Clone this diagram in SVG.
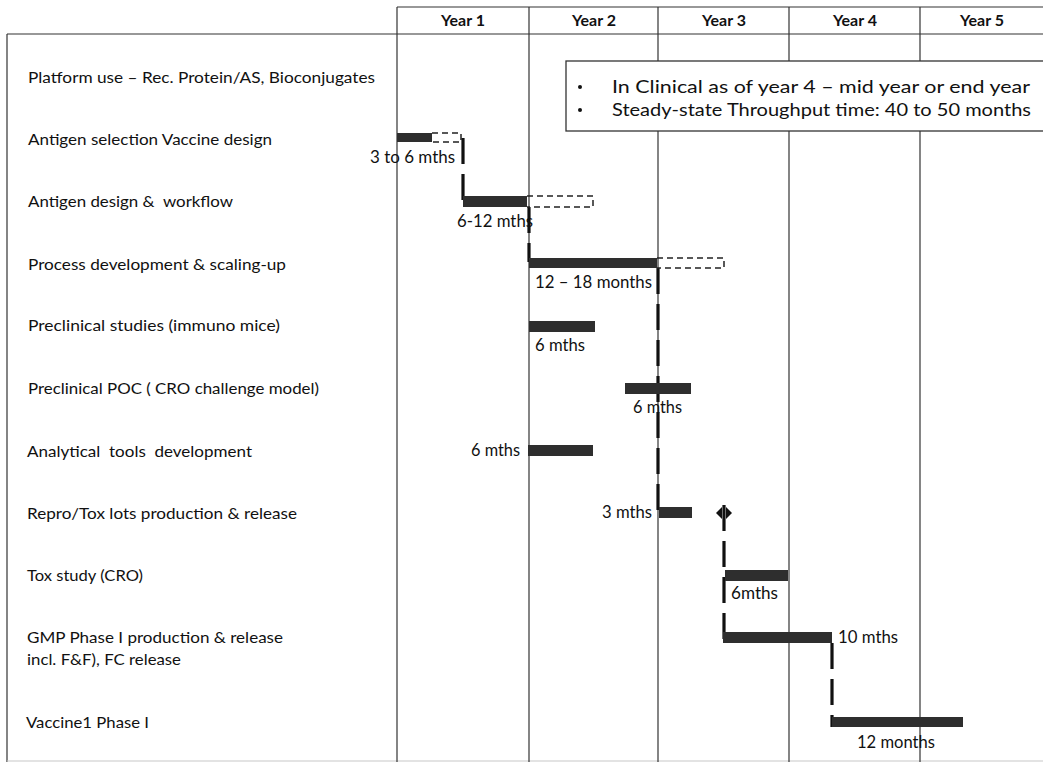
<svg xmlns="http://www.w3.org/2000/svg" width="1043" height="763" viewBox="0 0 1043 763">
<style>
  .frame{stroke:#333;stroke-width:1.2;fill:none}
  .grid{stroke:#333;stroke-width:1.2;fill:none}
  .hdr{font-family:Lato,"Liberation Sans",sans-serif;font-weight:bold;font-size:14.5px;fill:#111;text-anchor:middle}
  .lbl{font-family:Lato,"Liberation Sans",sans-serif;font-size:16px;fill:#111}
  .ann{font-family:Lato,"Liberation Sans",sans-serif;font-size:17px;fill:#111}
  .call{font-family:Lato,"Liberation Sans",sans-serif;font-size:17.5px;fill:#111}
  .bar{fill:#2e2e2e}
  .opt{fill:none;stroke:#222;stroke-width:1.5;stroke-dasharray:6 4}
  .dep{fill:none;stroke:#111;stroke-width:3.2;stroke-dasharray:26 10}
</style>
<rect x="0" y="0" width="1043" height="763" fill="#fff"/>

<g id="frame">
  <line class="frame" x1="7" y1="34" x2="1043" y2="34"/>
  <line class="frame" x1="7" y1="34" x2="7" y2="762"/>
  <line x1="7" y1="761" x2="1043" y2="761" stroke="#c8c8c8" stroke-width="1.2"/>
  <line class="frame" x1="397" y1="7" x2="1043" y2="7"/>
  <line class="grid" x1="397" y1="7" x2="397" y2="762"/>
  <line class="grid" x1="529" y1="7" x2="529" y2="762"/>
  <line class="grid" x1="658" y1="7" x2="658" y2="762"/>
  <line class="grid" x1="789" y1="7" x2="789" y2="762"/>
  <line class="grid" x1="920" y1="7" x2="920" y2="762"/>
</g>

<g id="header">
  <text class="hdr" x="463" y="26" textLength="44" lengthAdjust="spacingAndGlyphs">Year 1</text>
  <text class="hdr" x="594" y="26" textLength="44" lengthAdjust="spacingAndGlyphs">Year 2</text>
  <text class="hdr" x="724" y="26" textLength="44" lengthAdjust="spacingAndGlyphs">Year 3</text>
  <text class="hdr" x="855" y="26" textLength="44" lengthAdjust="spacingAndGlyphs">Year 4</text>
  <text class="hdr" x="982" y="26" textLength="44" lengthAdjust="spacingAndGlyphs">Year 5</text>
</g>

<g id="labels">
  <text class="lbl" x="28" y="83" textLength="347" lengthAdjust="spacingAndGlyphs">Platform use – Rec. Protein/AS, Bioconjugates</text>
  <text class="lbl" x="28" y="145" textLength="244" lengthAdjust="spacingAndGlyphs">Antigen selection Vaccine design</text>
  <text class="lbl" x="28" y="207" textLength="205" lengthAdjust="spacingAndGlyphs" xml:space="preserve">Antigen design &amp;  workflow</text>
  <text class="lbl" x="28" y="270" textLength="258" lengthAdjust="spacingAndGlyphs">Process development &amp; scaling-up</text>
  <text class="lbl" x="28" y="331" textLength="252" lengthAdjust="spacingAndGlyphs">Preclinical studies (immuno mice)</text>
  <text class="lbl" x="28" y="394" textLength="291" lengthAdjust="spacingAndGlyphs">Preclinical POC ( CRO challenge model)</text>
  <text class="lbl" x="27" y="457" textLength="225" lengthAdjust="spacingAndGlyphs" xml:space="preserve">Analytical  tools  development</text>
  <text class="lbl" x="27" y="519" textLength="270" lengthAdjust="spacingAndGlyphs">Repro/Tox lots production &amp; release</text>
  <text class="lbl" x="27" y="581" textLength="116" lengthAdjust="spacingAndGlyphs">Tox study (CRO)</text>
  <text class="lbl" x="27" y="643" textLength="256" lengthAdjust="spacingAndGlyphs">GMP Phase I production &amp; release</text>
  <text class="lbl" x="27" y="665" textLength="154" lengthAdjust="spacingAndGlyphs">incl. F&amp;F), FC release</text>
  <text class="lbl" x="26" y="728" textLength="123" lengthAdjust="spacingAndGlyphs">Vaccine1 Phase I</text>
</g>

<g id="callout">
  <rect x="566" y="61" width="490" height="70" fill="#fff" stroke="#333" stroke-width="1.3"/>
  <circle cx="580" cy="87" r="2" fill="#111"/>
  <circle cx="580" cy="110" r="2" fill="#111"/>
  <text class="call" x="612" y="93" textLength="418" lengthAdjust="spacingAndGlyphs">In Clinical as of year 4 – mid year or end year</text>
  <text class="call" x="612" y="116" textLength="419" lengthAdjust="spacingAndGlyphs">Steady-state Throughput time: 40 to 50 months</text>
</g>

<g id="connectors">
  <line class="dep" x1="463" y1="138" x2="463" y2="207"/>
  <line class="dep" x1="529" y1="207" x2="529" y2="262"/>
  <line class="dep" x1="658" y1="268" x2="658" y2="512"/>
  <line class="dep" x1="724" y1="505" x2="724" y2="642"/>
  <line class="dep" x1="832" y1="643" x2="832" y2="727"/>
</g>

<g id="task-antigen-selection">
  <rect class="bar" x="397" y="133" width="35" height="9"/>
  <polyline class="opt" points="432,133 461,133 461,142 432,142"/>
  <text class="ann" x="370" y="163" textLength="85" lengthAdjust="spacingAndGlyphs">3 to 6 mths</text>
</g>

<g id="task-antigen-design">
  <rect class="bar" x="463" y="196" width="64" height="11"/>
  <polyline class="opt" points="527,196 593,196 593,207 527,207"/>
  <text class="ann" x="457" y="227" textLength="76" lengthAdjust="spacingAndGlyphs">6-12 mths</text>
</g>

<g id="task-process-dev">
  <rect class="bar" x="529" y="258" width="128" height="10"/>
  <polyline class="opt" points="657,258 724,258 724,268 657,268"/>
  <text class="ann" x="535" y="288" textLength="117" lengthAdjust="spacingAndGlyphs">12 – 18 months</text>
</g>

<g id="task-preclinical-studies">
  <rect class="bar" x="529" y="321" width="66" height="11"/>
  <text class="ann" x="535" y="351" textLength="50" lengthAdjust="spacingAndGlyphs">6 mths</text>
</g>

<g id="task-preclinical-poc">
  <rect class="bar" x="625" y="383" width="66" height="11"/>
  <text class="ann" x="633" y="413" textLength="49" lengthAdjust="spacingAndGlyphs">6 mths</text>
</g>

<g id="task-analytical">
  <rect class="bar" x="528" y="445" width="65" height="11"/>
  <text class="ann" x="471" y="456" textLength="49" lengthAdjust="spacingAndGlyphs">6 mths</text>
</g>

<g id="task-repro-tox">
  <rect class="bar" x="659" y="507" width="33" height="11"/>
  <text class="ann" x="602" y="518" textLength="50" lengthAdjust="spacingAndGlyphs">3 mths</text>
  <polygon points="716,513 722,507 722,519" fill="#111"/>
  <polygon points="732,513 726,507 726,519" fill="#111"/>
</g>

<g id="task-tox-study">
  <rect class="bar" x="725" y="570" width="63" height="11"/>
  <text class="ann" x="731" y="599" textLength="47" lengthAdjust="spacingAndGlyphs">6mths</text>
</g>

<g id="task-gmp">
  <rect class="bar" x="723" y="632" width="109" height="11"/>
  <text class="ann" x="838" y="643" textLength="60" lengthAdjust="spacingAndGlyphs">10 mths</text>
</g>

<g id="task-vaccine-phase1">
  <rect class="bar" x="832" y="717" width="131" height="10"/>
  <text class="ann" x="857" y="748" textLength="78" lengthAdjust="spacingAndGlyphs">12 months</text>
</g>
</svg>
